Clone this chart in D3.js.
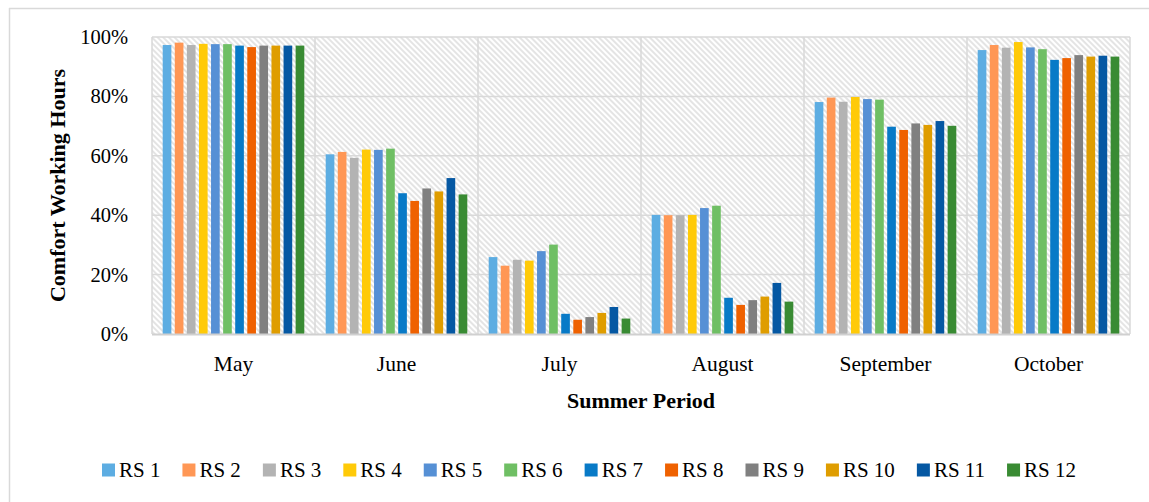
<!DOCTYPE html>
<html>
<head>
<meta charset="utf-8">
<script src="https://cdn.jsdelivr.net/npm/d3@7"></script>
<style>
  html, body { margin: 0; padding: 0; background: #fff; }
  svg { display: block; }
  text { font-family: "Liberation Serif", "Times New Roman", serif; fill: #000; }
</style>
</head>
<body>
<svg id="chart" width="1149" height="502"></svg>
<script>
const months = ["May", "June", "July", "August", "September", "October"];
const seriesNames = ["RS 1","RS 2","RS 3","RS 4","RS 5","RS 6","RS 7","RS 8","RS 9","RS 10","RS 11","RS 12"];
const seriesColors = ["#5DADE2","#FF9755","#B3B3B3","#FFCA08","#5690D5","#6FBF64","#087AC7","#EF6100","#808080","#DF9D00","#0558A3","#398B33"];
// values in percent, one array per series (May..October)
const rs1  = [97.3, 60.5, 25.9, 40.1, 78.1, 95.6];
const rs2  = [98.1, 61.3, 23.0, 40.0, 79.6, 97.3];
const rs3  = [97.3, 59.3, 25.0, 40.0, 78.2, 96.4];
const rs4  = [97.7, 62.1, 24.7, 40.1, 79.8, 98.3];
const rs5  = [97.6, 62.0, 27.9, 42.4, 79.1, 96.5];
const rs6  = [97.6, 62.4, 30.1, 43.2, 78.9, 95.9];
const rs7  = [97.1, 47.4,  6.8, 12.2, 69.8, 92.3];
const rs8  = [96.6, 44.8,  4.8,  9.8, 68.7, 92.9];
const rs9  = [97.1, 49.0,  5.7, 11.4, 70.9, 93.9];
const rs10 = [97.1, 48.0,  7.1, 12.6, 70.4, 93.4];
const rs11 = [97.1, 52.5,  9.1, 17.2, 71.7, 93.7];
const rs12 = [97.1, 47.0,  5.2, 10.9, 70.1, 93.4];
const yTicks = [0, 20, 40, 60, 80, 100];

const seriesValues = [rs1, rs2, rs3, rs4, rs5, rs6, rs7, rs8, rs9, rs10, rs11, rs12];

const svg = d3.select("#chart");
const plot = { left: 152, right: 1130, top: 37, bottom: 334 };

// outer chart border (top & left visible)
svg.append("line").attr("x1", 9).attr("x2", 1149).attr("y1", 8.5).attr("y2", 8.5)
  .attr("stroke", "#D9D9D9").attr("stroke-width", 1.5);
svg.append("line").attr("x1", 9.5).attr("x2", 9.5).attr("y1", 8).attr("y2", 502)
  .attr("stroke", "#D9D9D9").attr("stroke-width", 1.5);

// hatch pattern
const defs = svg.append("defs");
const pat = defs.append("pattern").attr("id", "hatch")
  .attr("patternUnits", "userSpaceOnUse").attr("width", 4).attr("height", 4)
  .attr("patternTransform", "rotate(-45)");
pat.append("rect").attr("width", 4).attr("height", 4).attr("fill", "#fff");
pat.append("line").attr("x1", 1).attr("x2", 1).attr("y1", 0).attr("y2", 4)
  .attr("stroke", "#DEDEDE").attr("stroke-width", 1.6);

const x0 = d3.scaleBand().domain(months).range([plot.left, plot.right]).padding(0);
const x1 = d3.scaleBand().domain(seriesNames).range([10.7, x0.bandwidth() - 10.7]).paddingInner(0.283).paddingOuter(0);
const y = d3.scaleLinear().domain([0, 100]).range([plot.bottom, plot.top]);

svg.append("rect").attr("x", plot.left).attr("y", plot.top)
  .attr("width", plot.right - plot.left).attr("height", plot.bottom - plot.top)
  .attr("fill", "url(#hatch)");

// horizontal grid lines
svg.append("g").selectAll("line").data(yTicks.filter(d => d > 0)).join("line")
  .attr("x1", plot.left).attr("x2", plot.right)
  .attr("y1", d => y(d)).attr("y2", d => y(d))
  .attr("stroke", "#D9D9D9").attr("stroke-width", 1.5);

// vertical grid lines at category boundaries
const bounds = months.map(m => x0(m)).concat([plot.right]);
svg.append("g").selectAll("line").data(bounds).join("line")
  .attr("x1", d => d).attr("x2", d => d)
  .attr("y1", plot.top).attr("y2", plot.bottom)
  .attr("stroke", "#D9D9D9").attr("stroke-width", 1.5);

// bars
const groups = svg.append("g").selectAll("g").data(months).join("g")
  .attr("transform", m => `translate(${x0(m)},0)`);
groups.selectAll("rect").data((m, mi) => seriesNames.map((s, si) => ({ s, si, v: seriesValues[si][mi] })))
  .join("rect")
  .attr("x", d => x1(d.s)).attr("width", x1.bandwidth())
  .attr("y", d => y(d.v)).attr("height", d => y(0) - y(d.v))
  .attr("fill", d => seriesColors[d.si]);

// bottom axis line
svg.append("line").attr("x1", plot.left).attr("x2", plot.right)
  .attr("y1", plot.bottom + 0.5).attr("y2", plot.bottom + 0.5)
  .attr("stroke", "#D0D0D0").attr("stroke-width", 2);

// y axis labels
const yAxis = d3.axisLeft(y).tickValues(yTicks).tickFormat(d => d + "%").tickSize(0).tickPadding(24);
const yg = svg.append("g").attr("transform", `translate(${plot.left},0)`).call(yAxis);
yg.select(".domain").remove();
yg.selectAll("text").attr("font-size", 20.5).attr("font-family", "Liberation Serif").attr("fill", "#000").attr("dy", "0.32em");

// x axis labels
const xAxis = d3.axisBottom(x0).tickSize(0).tickPadding(0);
const xg = svg.append("g").attr("transform", `translate(0,${plot.bottom})`).call(xAxis);
xg.select(".domain").remove();
xg.selectAll("text").attr("font-size", 21.5).attr("font-family", "Liberation Serif").attr("fill", "#000")
  .attr("dy", null).attr("y", 36.5);

// axis titles
svg.append("text").attr("x", (plot.left + plot.right) / 2).attr("y", 408)
  .attr("text-anchor", "middle").attr("font-size", 22).attr("font-weight", "bold")
  .text("Summer Period");
svg.append("text").attr("transform", `translate(65,${(plot.top + plot.bottom) / 2}) rotate(-90)`)
  .attr("text-anchor", "middle").attr("font-size", 22).attr("font-weight", "bold")
  .text("Comfort Working Hours");

// legend
const legend = svg.append("g");
let lx = 102;
seriesNames.forEach((s, i) => {
  const g = legend.append("g").attr("transform", `translate(${lx},0)`);
  g.append("rect").attr("x", 0).attr("y", 463.5).attr("width", 13).attr("height", 13).attr("fill", seriesColors[i]);
  const t = g.append("text").attr("x", 17).attr("y", 476.5).attr("font-size", 21).attr("font-family", "Liberation Serif").text(s);
  lx += 17 + t.node().getComputedTextLength() + 22;
});
</script>
</body>
</html>
